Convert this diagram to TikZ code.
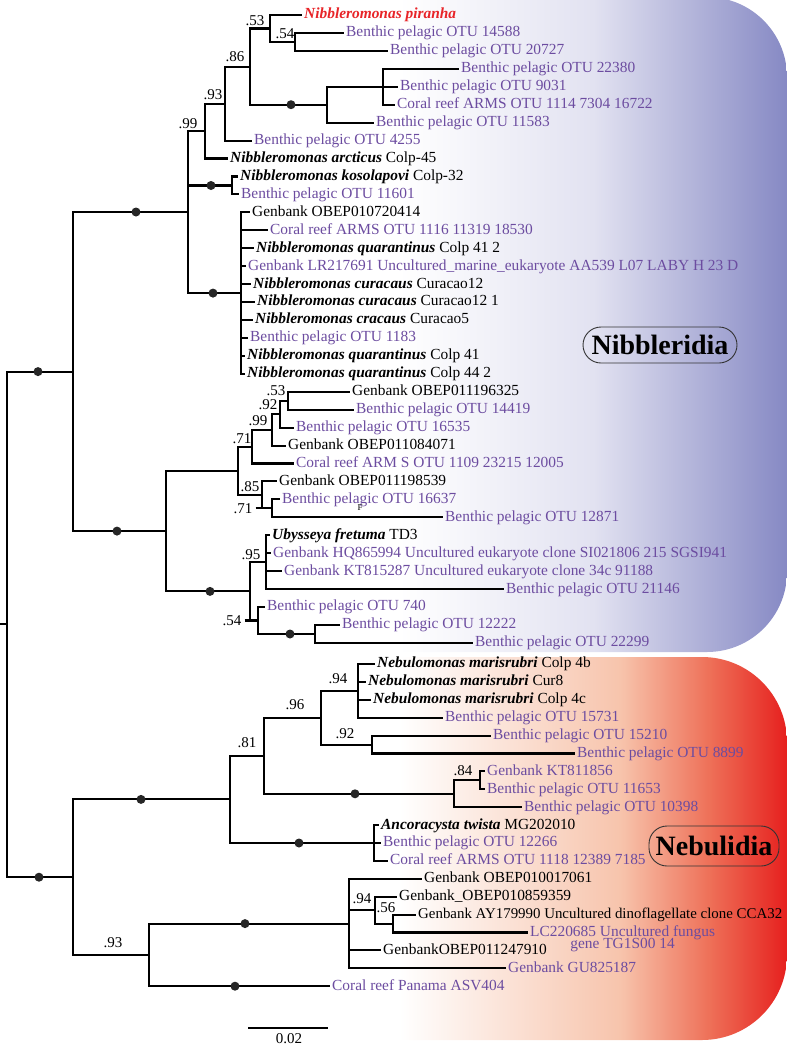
\documentclass[tikz,border=0pt]{standalone}
\usepackage{fontspec}
\setmainfont{Liberation Serif}
\definecolor{pur}{RGB}{108,76,160}
\definecolor{redt}{RGB}{232,36,40}
\definecolor{bluR}{RGB}{134,137,196}
\definecolor{bluM}{RGB}{226,226,241}
\definecolor{redR}{RGB}{230,32,30}
\definecolor{redN}{RGB}{238,112,88}
\definecolor{redM}{RGB}{247,196,172}
\pgfdeclarehorizontalshading{bluesh}{100bp}{color(0bp)=(white); color(42bp)=(white); color(58.5bp)=(bluM); color(75bp)=(bluR); color(100bp)=(bluR)}
\pgfdeclarehorizontalshading{redsh}{100bp}{color(0bp)=(white); color(42bp)=(white); color(60.8bp)=(redM); color(68.4bp)=(redN); color(75bp)=(redR); color(100bp)=(redR)}
\newcommand\leafsz{\fontsize{15.4}{16.5}\selectfont}
\newcommand\bi[1]{\textbf{\textit{#1}}}
\begin{document}
\begin{tikzpicture}[x=1pt,y=-1pt,
 br/.style={line width=2.1pt},
 lf/.style={anchor=west, inner sep=2pt, font=\leafsz, text height=10.8pt, text depth=3pt},
 pl/.style={lf, text=pur},
 lab/.style={font=\fontsize{15}{16}\selectfont, inner sep=0pt},
 dotm/.style={circle, fill=black!85, inner sep=0pt, minimum size=9pt},
 clade/.style={draw=black!80, rounded corners=18pt, line width=0.9pt, font=\fontsize{28}{30}\selectfont\bfseries, inner sep=0pt}
]
\useasboundingbox (0,0) rectangle (787,1047);
% backgrounds
\shade[shading=bluesh, rounded corners=80pt] (200,-3) rectangle (787,652);
\shade[shading=redsh, rounded corners=85pt] (200,657) rectangle (787,1040);

% ---------- Nibbleridia internal nodes ----------
\coordinate (root) at (7,624.4);
\coordinate (N) at (73,371.6);
\coordinate (n188) at (188,212);
\coordinate (a99) at (205,131);
\coordinate (a93) at (225,103.6);
\coordinate (a86) at (250,66.6);
\coordinate (a53) at (270,28.5);
\coordinate (a54) at (295,41.9);
\coordinate (d327) at (327,104.7);
\coordinate (c383) at (383,86.8);
\coordinate (kos) at (232,185.5);
\coordinate (poly) at (241,293.1);
\coordinate (n166) at (166,531.1);
\coordinate (g238) at (238,470.8);
\coordinate (g252) at (252,446.7);
\coordinate (g272) at (272,429.9);
\coordinate (g280) at (280,414.2);
\coordinate (g288) at (288,400.7);
\coordinate (h262) at (262,494.9);
\coordinate (h272) at (272,508.4);
\coordinate (u250) at (250,591.4);
\coordinate (u266) at (266,562.2);
\coordinate (v258) at (258,620.5);
\coordinate (v315) at (315,634);

% ---------- Nibbleridia leaves ----------
\node[lf, text=redt] (L0) at (302,15) {\bi{Nibbleromonas piranha}};
\node[pl] (L1) at (344,32.9) {Benthic pelagic OTU 14588};
\node[pl] (L2) at (388,50.9) {Benthic pelagic OTU 20727};
\node[pl] (L3) at (459,68.8) {Benthic pelagic OTU 22380};
\node[pl] (L4) at (398,86.8) {Benthic pelagic OTU 9031};
\node[pl] (L5) at (395,104.7) {Coral reef ARMS OTU 1114 7304 16722};
\node[pl] (L6) at (374,122.6) {Benthic pelagic OTU 11583};
\node[pl] (L7) at (252,140.6) {Benthic pelagic OTU 4255};
\node[lf] (L8) at (228,158.5) {\bi{Nibbleromonas arcticus} Colp-45};
\node[lf] (L9) at (238,176.5) {\bi{Nibbleromonas kosolapovi} Colp-32};
\node[pl] (L10) at (239,194.4) {Benthic pelagic OTU 11601};
\node[lf] (L11) at (250,212.3) {Genbank OBEP010720414};
\node[pl] (L12) at (268,230.3) {Coral reef ARMS OTU 1116 11319 18530};
\node[lf] (L13) at (254,248.2) {\bi{Nibbleromonas quarantinus} Colp 41 2};
\node[pl] (L14) at (246,266.2) {Genbank LR217691 Uncultured\_marine\_eukaryote AA539 L07 LABY H 23 D};
\node[lf] (L15) at (251,284.1) {\bi{Nibbleromonas curacaus} Curacao12};
\node[lf] (L16) at (255,302) {\bi{Nibbleromonas curacaus} Curacao12 1};
\node[lf] (L17) at (253,320) {\bi{Nibbleromonas cracaus} Curacao5};
\node[pl] (L18) at (248,337.9) {Benthic pelagic OTU 1183};
\node[lf] (L19) at (245,355.9) {\bi{Nibbleromonas quarantinus} Colp 41};
\node[lf] (L20) at (245,373.8) {\bi{Nibbleromonas quarantinus} Colp 44 2};
\node[lf] (L21) at (350,391.7) {Genbank OBEP011196325};
\node[pl] (L22) at (354,409.7) {Benthic pelagic OTU 14419};
\node[pl] (L23) at (294,427.6) {Benthic pelagic OTU 16535};
\node[lf] (L24) at (286,445.6) {Genbank OBEP011084071};
\node[pl] (L25) at (294,463.5) {Coral reef ARM S OTU 1109 23215 12005};
\node[lf] (L26) at (277,481.4) {Genbank OBEP011198539};
\node[pl] (L27) at (280,499.4) {Benthic pelagic OTU 16637};
\node[pl] (L28) at (443,517.3) {Benthic pelagic OTU 12871};
\node[lf] (L29) at (270,535.3) {\bi{Ubysseya fretuma} TD3};
\node[pl] (L30) at (271,553.2) {Genbank HQ865994 Uncultured eukaryote clone SI021806 215 SGSI941};
\node[pl] (L31) at (282,571.1) {Genbank KT815287 Uncultured eukaryote clone 34c 91188};
\node[pl] (L32) at (504,589.1) {Benthic pelagic OTU 21146};
\node[pl] (L33) at (265,607) {Benthic pelagic OTU 740};
\node[pl] (L34) at (340,625) {Benthic pelagic OTU 12222};
\node[pl] (L35) at (473,642.9) {Benthic pelagic OTU 22299};
\node[font=\fontsize{9}{9}\selectfont, inner sep=0pt] (art) at (360,508) {F};

% ---------- Nebulidia internal nodes ----------
\coordinate (B) at (73,877.2);
\coordinate (m230) at (230,799.4);
\coordinate (m264) at (264,755.8);
\coordinate (m321) at (321,717.7);
\coordinate (m358) at (358,690.9);
\coordinate (m372) at (372,744.6);
\coordinate (k454) at (454,793.8);
\coordinate (k480) at (480,780.4);
\coordinate (anc) at (374,843);
\coordinate (p149) at (149,954.9);
\coordinate (p349) at (349,923.6);
\coordinate (p375) at (375,910.2);
\coordinate (p393) at (393,923.6);

% ---------- Nebulidia leaves ----------
\node[lf] (M0) at (375,664) {\bi{Nebulomonas marisrubri} Colp 4b};
\node[lf] (M1) at (366,681.9) {\bi{Nebulomonas marisrubri} Cur8};
\node[lf] (M2) at (371,699.8) {\bi{Nebulomonas marisrubri} Colp 4c};
\node[pl] (M3) at (443,717.7) {Benthic pelagic OTU 15731};
\node[pl] (M4) at (491,735.6) {Benthic pelagic OTU 15210};
\node[pl] (M5) at (575,753.5) {Benthic pelagic OTU 8899};
\node[pl] (M6) at (485,771.4) {Genbank KT811856};
\node[pl] (M7) at (485,789.3) {Benthic pelagic OTU 11653};
\node[pl] (M8) at (522,807.2) {Benthic pelagic OTU 10398};
\node[lf] (M9) at (379,825.1) {\bi{Ancoracysta twista} MG202010};
\node[pl] (M10) at (381,843) {Benthic pelagic OTU 12266};
\node[pl] (M11) at (388,860.9) {Coral reef ARMS OTU 1118 12389 7185};
\node[lf] (M12) at (422,878.8) {Genbank OBEP010017061};
\node[lf] (M13) at (397,896.7) {Genbank\_OBEP010859359};
\node[lf, font=\fontsize{14.9}{16}\selectfont] (M14) at (416,914.6) {Genbank AY179990 Uncultured dinoflagellate clone CCA32};
\node[pl] (M15) at (528,932.5) {LC220685 Uncultured fungus};
\node[anchor=base, font=\leafsz, text=pur, inner sep=0pt] (M15b) at ([yshift=-12pt]M15.base) {gene TG1S00 14};
\node[lf] (M16) at (381,950.4) {GenbankOBEP011247910};
\node[pl] (M17) at (506,968.3) {Genbank GU825187};
\node[pl] (M18) at (330,986.2) {Coral reef Panama ASV404};

% ---------- branches ----------
\draw[br] (root) -- (0,624.4);
\draw[br] (root) |- (N);
\draw[br] (root) |- (B);
\draw[br] (N) |- (n188);
\draw[br] (N) |- (n166);
\draw[br] (n188) |- (a99);
\draw[br] (n188) |- (kos);
\draw[br] (n188) |- (poly);
\draw[br] (a99) |- (a93);
\draw[br] (a99) |- (L8.west);
\draw[br] (a93) |- (a86);
\draw[br] (a93) |- (L7.west);
\draw[br] (a86) |- (a53);
\draw[br] (a86) |- (d327);
\draw[br] (a53) |- (L0.west);
\draw[br] (a53) |- (a54);
\draw[br] (a54) |- (L1.west);
\draw[br] (a54) |- (L2.west);
\draw[br] (d327) |- (c383);
\draw[br] (d327) |- (L6.west);
\draw[br] (c383) |- (L3.west);
\draw[br] (c383) |- (L4.west);
\draw[br] (c383) |- (L5.west);
\draw[br] (kos) |- (L9.west);
\draw[br] (kos) |- (L10.west);
\foreach \i in {11,...,20} {\draw[br] (poly) |- (L\i.west);}
\draw[br] (n166) |- (g238);
\draw[br] (n166) |- (u250);
\draw[br] (g238) |- (g252);
\draw[br] (g238) |- (h262);
\draw[br] (g252) |- (g272);
\draw[br] (g252) |- (L25.west);
\draw[br] (g272) |- (g280);
\draw[br] (g272) |- (L24.west);
\draw[br] (g280) |- (g288);
\draw[br] (g280) |- (L23.west);
\draw[br] (g288) |- (L21.west);
\draw[br] (g288) |- (L22.west);
\draw[br] (h262) |- (L26.west);
\draw[br] (h262) |- (h272);
\draw[br] (h272) |- (L27.west);
\draw[br] (h272) |- (L28.west);
\draw[br] (u250) |- (u266);
\draw[br] (u250) |- (v258);
\foreach \i in {29,...,32} {\draw[br] (u266) |- (L\i.west);}
\draw[br] (v258) |- (L33.west);
\draw[br] (v258) |- (v315);
\draw[br] (v315) |- (L34.west);
\draw[br] (v315) |- (L35.west);

\draw[br] (B) |- (m230);
\draw[br] (B) |- (p149);
\draw[br] (m230) |- (m264);
\draw[br] (m230) |- (anc);
\draw[br] (m264) |- (m321);
\draw[br] (m264) |- (k454);
\draw[br] (m321) |- (m358);
\draw[br] (m321) |- (m372);
\foreach \i in {0,...,3} {\draw[br] (m358) |- (M\i.west);}
\draw[br] (m372) |- (M4.west);
\draw[br] (m372) |- (M5.west);
\draw[br] (k454) |- (k480);
\draw[br] (k454) |- (M8.west);
\draw[br] (k480) |- (M6.west);
\draw[br] (k480) |- (M7.west);
\foreach \i in {9,10,11} {\draw[br] (anc) |- (M\i.west);}
\draw[br] (p149) |- (p349);
\draw[br] (p149) |- (M18.west);
\draw[br] (p349) |- (M12.west);
\draw[br] (p349) |- (p375);
\draw[br] (p349) |- (M16.west);
\draw[br] (p349) |- (M17.west);
\draw[br] (p375) |- (M13.west);
\draw[br] (p375) |- (p393);
\draw[br] (p393) |- (M14.west);
\draw[br] (p393) |- (M15.west);

% ---------- dots ----------
\foreach \p in {(136,212),(38,371.6),(117,531.1),(291,104.7),(211,185.5),(213,293.1),(210,591.4),(290,634),(39,877.2),(141,799.4),(299,843),(355,793.8),(245,923.6),(235,986.2)}
  {\node[dotm] at \p {};}

% ---------- support values ----------
\node[lab] at (255,21) {.53};
\node[lab] at (285,34) {.54};
\node[lab] at (235,57) {.86};
\node[lab] at (213,95) {.93};
\node[lab] at (188,124) {.99};
\node[lab] at (276,391) {.53};
\node[lab] at (268,405) {.92};
\node[lab] at (258,421) {.99};
\node[lab] at (242,439) {.71};
\node[lab] at (250,487) {.85};
\node[lab] (l71) at (243,508.4) {.71};
\draw[br] ([xshift=3pt]l71.east) -- (h272);
\node[lab] at (251,555) {.95};
\node[lab] (l54) at (232,620.5) {.54};
\draw[br] ([xshift=3pt]l54.east) -- (v258);
\node[lab] at (338,679) {.94};
\node[lab] at (295,705) {.96};
\node[lab] at (345,734) {.92};
\node[lab] at (247,743) {.81};
\node[lab] at (463,771) {.84};
\node[lab] at (113,943) {.93};
\node[lab] at (362,899) {.94};
\node[lab] at (386,908) {.56};

% ---------- clade labels ----------
\node[clade, minimum width=154pt, minimum height=36pt] (nibb) at (660,345) {Nibbleridia};
\node[clade, minimum width=130pt, minimum height=40pt] (nebu) at (714,846) {Nebulidia};

% ---------- scale bar ----------
\coordinate (sbL) at (248,1028);
\coordinate (sbR) at (328,1028);
\draw[br] (sbL) -- (sbR);
\node[lab] (sbt) at (289,1039) {0.02};
\end{tikzpicture}
\end{document}
